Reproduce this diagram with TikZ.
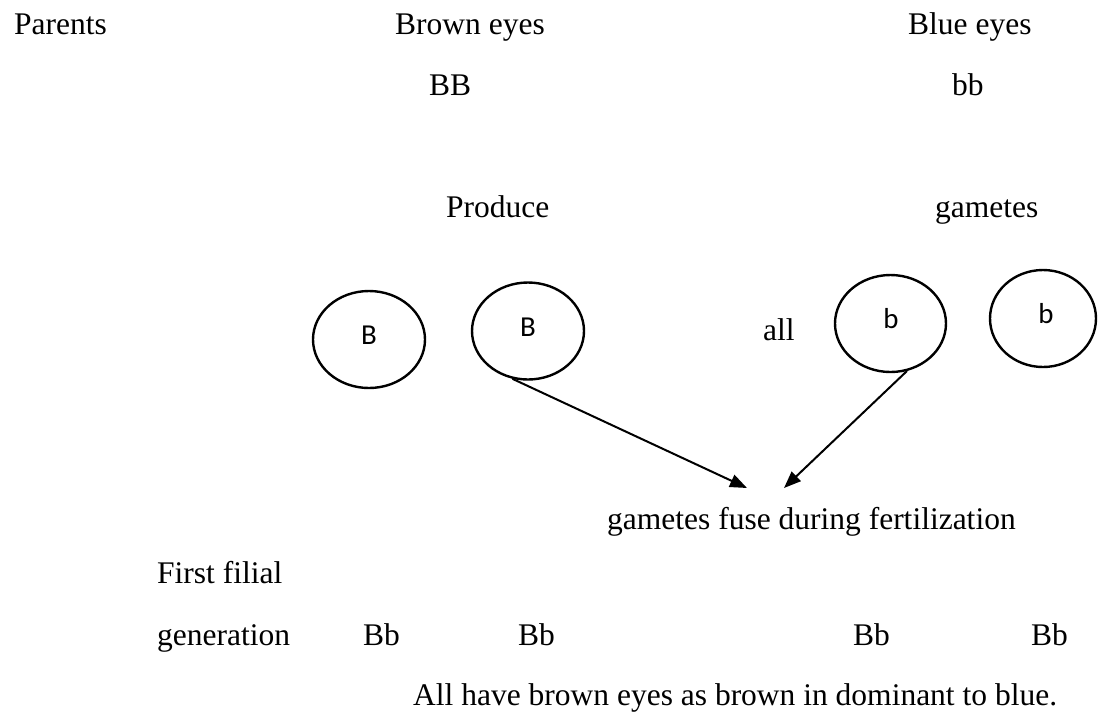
\documentclass[tikz,border=0pt]{standalone}
\usepackage{fontspec}
\setmainfont{Liberation Serif}
\newfontfamily\gamfont{Carlito}
\usetikzlibrary{arrows.meta,shapes.geometric}
\begin{document}
\begin{tikzpicture}[x=1pt,y=-1pt,
  txt/.style={anchor=base west, inner sep=0pt, font=\fontsize{31.5}{38}\selectfont},
  gamete/.style={draw, ellipse, line width=2.4pt, inner sep=0pt,
                 minimum width=#1, minimum height=97pt},
  allele/.style={anchor=base, inner sep=0pt, font=\gamfont\fontsize{28.9}{34}\selectfont},
  fuse/.style={line width=2pt, -{Triangle[length=17pt,width=13pt]}}]
\useasboundingbox (0,0) rectangle (1101,713);

% parents
\node[txt] (parents) at (14,34) {Parents};
\node[txt] (brown) at (395,34) {Brown eyes};
\node[txt] (blue) at (908,34) {Blue eyes};
\node[txt] (BB) at (429,95) {BB};
\node[txt] (bb) at (952,95) {bb};

% gametes
\node[txt] (produce) at (446,217) {Produce};
\node[txt] (gam) at (935,217) {gametes};
\node[txt] (all) at (763,340) {all};

\node[gamete=112pt] (c1) at (369,339.5) {};
\node[gamete=112pt] (c2) at (528,331) {};
\node[gamete=111pt] (c3) at (890.5,323.5) {};
\node[gamete=106pt] (c4) at (1043,318.5) {};
\node[allele] (g1) at (369,344) {B};
\node[allele] (g2) at (528,336) {B};
\node[allele] (g3) at (891,328) {b};
\node[allele] (g4) at (1046,323) {b};

% fertilization
\node[txt] (fusion) at (607,529) {gametes fuse during fertilization};
\coordinate (t1) at (747,488);
\coordinate (t2) at (784,488);
\draw[fuse] (c2.252) -- (t1);
\draw[fuse] (c3.289) -- (t2);

% offspring
\node[txt] (first) at (157,583) {First filial};
\node[txt] (gen) at (157,645) {generation};
\node[txt] (f1) at (363,645) {Bb};
\node[txt] (f2) at (518,645) {Bb};
\node[txt] (f3) at (853,645) {Bb};
\node[txt] (f4) at (1031,645) {Bb};
\node[txt] (note) at (413,705) {All have brown eyes as brown in dominant to blue.};
\end{tikzpicture}
\end{document}
